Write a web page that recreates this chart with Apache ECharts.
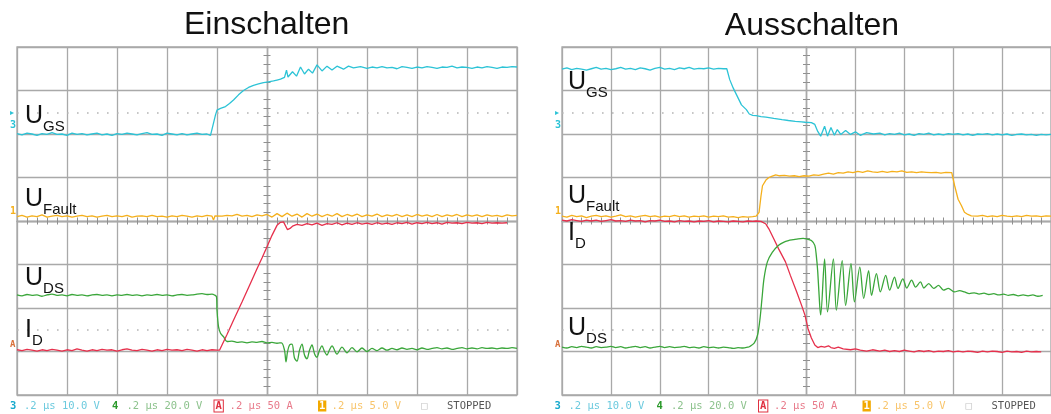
<!DOCTYPE html>
<html><head><meta charset="utf-8">
<script src="https://cdn.jsdelivr.net/npm/echarts@6/dist/echarts.min.js"></script>
<style>html,body{margin:0;padding:0;background:#fff}#c{width:1051px;height:414px}</style>
</head><body><div id="c"></div>
<script>
// x: time in scope divisions (0.2 µs/div, 0 = screen centre); y: screen divisions
const panelTitles = ['Einschalten', 'Ausschalten'];

// ---------- Einschalten ----------
const ugsOn = [[-5,2.01],[-4.9,1.98],[-4.8,2.02],[-4.7,2.0],[-4.6,1.97],[-4.5,2.01],[-4.4,1.99],[-4.3,2.03],[-4.2,1.99],[-4.1,2.0],[-4.0,1.97],[-3.9,2.02],[-3.8,1.99],[-3.7,2.01],[-3.6,1.98],[-3.5,2.0],[-3.4,2.02],[-3.3,1.98],[-3.2,2.0],[-3.1,1.97],[-3.0,2.01],[-2.9,1.99],[-2.8,2.02],[-2.7,2.0],[-2.6,1.98],[-2.5,2.01],[-2.4,2.03],[-2.3,1.99],[-2.2,2.0],[-2.1,1.97],[-2.0,2.02],[-1.9,2.0],[-1.8,1.98],[-1.7,2.01],[-1.6,1.98],[-1.5,2.0],[-1.4,2.02],[-1.3,1.99],[-1.2,2.0],[-1.13,1.97],[-1.09,1.99],[-1.07,2.25],[-1.03,2.44],[-1.0,2.55],[-0.93,2.59],[-0.83,2.63],[-0.75,2.7],[-0.67,2.78],[-0.57,2.9],[-0.47,3.0],[-0.37,3.07],[-0.27,3.12],[-0.17,3.15],[-0.07,3.18],[0.03,3.2],[0.13,3.22],[0.2,3.24],[0.27,3.26],[0.35,3.3],[0.39,3.47],[0.42,3.31],[0.51,3.43],[0.59,3.33],[0.67,3.54],[0.75,3.38],[0.83,3.49],[0.91,3.4],[1.0,3.59],[1.1,3.45],[1.2,3.56],[1.3,3.47],[1.4,3.56],[1.53,3.49],[1.63,3.56],[1.73,3.52],[1.87,3.55],[2.0,3.51],[2.1,3.54],[2.2,3.52],[2.3,3.55],[2.4,3.52],[2.5,3.53],[2.6,3.5],[2.7,3.55],[2.8,3.53],[2.9,3.51],[3.0,3.54],[3.1,3.52],[3.2,3.55],[3.3,3.53],[3.4,3.51],[3.5,3.54],[3.6,3.53],[3.7,3.56],[3.8,3.52],[3.9,3.54],[4.0,3.53],[4.1,3.51],[4.2,3.54],[4.3,3.52],[4.4,3.55],[4.5,3.53],[4.6,3.51],[4.7,3.54],[4.8,3.53],[4.9,3.55],[5.0,3.54]];
const ufOn = [[-5,0.1],[-4.9,0.13],[-4.8,0.09],[-4.7,0.12],[-4.6,0.1],[-4.5,0.14],[-4.4,0.09],[-4.3,0.11],[-4.2,0.13],[-4.1,0.1],[-4.0,0.12],[-3.9,0.09],[-3.8,0.11],[-3.7,0.13],[-3.6,0.1],[-3.5,0.12],[-3.4,0.09],[-3.3,0.11],[-3.2,0.13],[-3.1,0.1],[-3.0,0.12],[-2.9,0.1],[-2.8,0.13],[-2.7,0.09],[-2.6,0.11],[-2.5,0.12],[-2.4,0.1],[-2.3,0.13],[-2.2,0.1],[-2.1,0.11],[-2.0,0.09],[-1.9,0.12],[-1.8,0.1],[-1.7,0.13],[-1.6,0.11],[-1.5,0.09],[-1.4,0.12],[-1.3,0.1],[-1.2,0.13],[-1.1,0.11],[-1.07,0.02],[-1.04,0.12],[-1.0,0.14],[-0.9,0.11],[-0.8,0.13],[-0.7,0.12],[-0.6,0.15],[-0.5,0.11],[-0.4,0.13],[-0.3,0.1],[-0.2,0.14],[-0.1,0.12],[0.0,0.15],[0.1,0.09],[0.2,0.17],[0.3,0.1],[0.4,0.18],[0.5,0.11],[0.6,0.16],[0.7,0.09],[0.8,0.17],[0.9,0.11],[1.0,0.16],[1.1,0.1],[1.2,0.15],[1.3,0.11],[1.4,0.17],[1.5,0.1],[1.6,0.15],[1.7,0.11],[1.8,0.16],[1.9,0.1],[2.0,0.14],[2.1,0.11],[2.2,0.16],[2.3,0.1],[2.4,0.14],[2.5,0.11],[2.6,0.15],[2.7,0.1],[2.8,0.14],[2.9,0.1],[3.0,0.15],[3.1,0.11],[3.2,0.14],[3.3,0.1],[3.4,0.15],[3.5,0.1],[3.6,0.14],[3.7,0.11],[3.8,0.15],[3.9,0.1],[4.0,0.14],[4.1,0.11],[4.2,0.14],[4.3,0.1],[4.4,0.14],[4.5,0.11],[4.6,0.13],[4.7,0.1],[4.8,0.14],[4.9,0.12],[5.0,0.13]];
const idOn = [[-5,-2.96],[-4.9,-2.98],[-4.8,-2.95],[-4.7,-2.97],[-4.6,-2.99],[-4.5,-2.96],[-4.4,-2.98],[-4.3,-2.95],[-4.2,-2.97],[-4.1,-2.99],[-4.0,-2.96],[-3.9,-2.98],[-3.8,-2.94],[-3.7,-2.97],[-3.6,-2.99],[-3.5,-2.96],[-3.4,-2.98],[-3.3,-2.95],[-3.2,-2.97],[-3.1,-2.96],[-3.0,-2.99],[-2.9,-2.96],[-2.8,-2.94],[-2.7,-2.97],[-2.6,-2.98],[-2.5,-2.95],[-2.4,-2.97],[-2.3,-2.99],[-2.2,-2.96],[-2.1,-2.98],[-2.0,-2.95],[-1.9,-2.97],[-1.8,-2.96],[-1.7,-2.98],[-1.6,-2.95],[-1.5,-2.97],[-1.4,-2.99],[-1.3,-2.96],[-1.2,-2.98],[-1.1,-2.96],[-1.0,-2.97],[-0.95,-2.97],[-0.9,-2.85],[-0.8,-2.61],[-0.67,-2.28],[-0.5,-1.86],[-0.33,-1.43],[-0.2,-1.1],[-0.1,-0.85],[0,-0.59],[0.1,-0.33],[0.2,-0.1],[0.27,-0.03],[0.33,-0.02],[0.37,-0.06],[0.41,-0.2],[0.46,-0.17],[0.51,-0.12],[0.6,-0.08],[0.7,-0.1],[0.8,-0.06],[0.9,-0.09],[1.0,-0.05],[1.1,-0.1],[1.2,-0.06],[1.3,-0.08],[1.4,-0.04],[1.5,-0.09],[1.6,-0.05],[1.7,-0.08],[1.8,-0.04],[1.9,-0.07],[2.0,-0.05],[2.1,-0.08],[2.2,-0.04],[2.3,-0.07],[2.4,-0.05],[2.5,-0.08],[2.6,-0.04],[2.7,-0.06],[2.8,-0.03],[2.9,-0.07],[3.0,-0.04],[3.1,-0.06],[3.2,-0.03],[3.3,-0.06],[3.4,-0.04],[3.5,-0.07],[3.6,-0.03],[3.7,-0.05],[3.8,-0.04],[3.9,-0.06],[4.0,-0.03],[4.1,-0.05],[4.2,-0.04],[4.3,-0.06],[4.4,-0.03],[4.5,-0.05],[4.6,-0.04],[4.7,-0.05],[4.8,-0.04]];
const udsOn = [[-5,-1.7],[-4.9,-1.72],[-4.8,-1.69],[-4.7,-1.71],[-4.6,-1.7],[-4.5,-1.73],[-4.4,-1.7],[-4.3,-1.68],[-4.2,-1.71],[-4.1,-1.7],[-4.0,-1.72],[-3.9,-1.69],[-3.8,-1.71],[-3.7,-1.7],[-3.6,-1.72],[-3.5,-1.7],[-3.4,-1.69],[-3.3,-1.71],[-3.2,-1.7],[-3.1,-1.72],[-3.0,-1.7],[-2.9,-1.71],[-2.8,-1.69],[-2.7,-1.71],[-2.6,-1.7],[-2.5,-1.72],[-2.4,-1.7],[-2.3,-1.71],[-2.2,-1.69],[-2.1,-1.71],[-2.0,-1.7],[-1.9,-1.72],[-1.8,-1.7],[-1.7,-1.69],[-1.6,-1.71],[-1.5,-1.7],[-1.4,-1.68],[-1.3,-1.67],[-1.2,-1.69],[-1.1,-1.68],[-1.05,-1.7],[-1.01,-1.74],[-1.0,-2.05],[-0.97,-2.43],[-0.93,-2.58],[-0.87,-2.66],[-0.8,-2.77],[-0.7,-2.76],[-0.6,-2.79],[-0.5,-2.78],[-0.4,-2.8],[-0.3,-2.78],[-0.2,-2.79],[-0.1,-2.77],[0,-2.8],[0.1,-2.79],[0.2,-2.81],[0.29,-2.8],[0.35,-2.97],[0.38,-3.24],[0.41,-3.01],[0.45,-2.85],[0.5,-2.83],[0.55,-3.15],[0.6,-3.22],[0.65,-2.97],[0.7,-2.83],[0.75,-3.08],[0.8,-3.17],[0.85,-2.97],[0.9,-2.85],[0.95,-3.05],[1.0,-3.13],[1.05,-2.97],[1.1,-2.87],[1.15,-3.0],[1.2,-3.08],[1.25,-2.96],[1.3,-2.87],[1.4,-3.06],[1.5,-2.9],[1.6,-3.03],[1.7,-2.91],[1.8,-3.01],[1.9,-2.92],[2.0,-3.0],[2.1,-2.93],[2.2,-2.98],[2.3,-2.92],[2.4,-2.97],[2.5,-2.93],[2.6,-2.96],[2.7,-2.92],[2.8,-2.95],[2.9,-2.93],[3.0,-2.96],[3.1,-2.92],[3.2,-2.95],[3.3,-2.93],[3.4,-2.91],[3.5,-2.94],[3.6,-2.92],[3.7,-2.95],[3.8,-2.93],[3.9,-2.91],[4.0,-2.94],[4.1,-2.92],[4.2,-2.94],[4.3,-2.91],[4.4,-2.93],[4.5,-2.92],[4.6,-2.94],[4.7,-2.92],[4.8,-2.93],[4.9,-2.91],[5.0,-2.93]];

// ---------- Ausschalten ----------
const ugsOff = [[-5,3.49],[-4.9,3.52],[-4.8,3.48],[-4.7,3.51],[-4.6,3.49],[-4.5,3.47],[-4.4,3.5],[-4.3,3.53],[-4.2,3.49],[-4.1,3.51],[-4.0,3.48],[-3.9,3.5],[-3.8,3.53],[-3.7,3.49],[-3.6,3.51],[-3.5,3.48],[-3.4,3.52],[-3.3,3.5],[-3.2,3.47],[-3.1,3.51],[-3.0,3.53],[-2.9,3.49],[-2.8,3.51],[-2.7,3.48],[-2.6,3.52],[-2.5,3.5],[-2.4,3.53],[-2.3,3.49],[-2.2,3.51],[-2.1,3.5],[-2.0,3.52],[-1.9,3.49],[-1.8,3.51],[-1.7,3.5],[-1.63,3.5],[-1.57,3.25],[-1.5,3.06],[-1.43,2.9],[-1.33,2.67],[-1.23,2.56],[-1.17,2.46],[-1.1,2.43],[-1.03,2.42],[-0.93,2.4],[-0.83,2.39],[-0.67,2.36],[-0.5,2.33],[-0.37,2.31],[-0.23,2.29],[-0.1,2.28],[-0.03,2.27],[0.1,2.26],[0.17,2.22],[0.23,2.06],[0.29,1.95],[0.37,2.18],[0.43,1.95],[0.5,2.15],[0.57,1.97],[0.63,2.1],[0.7,1.99],[0.8,2.08],[0.9,1.99],[1.0,2.05],[1.1,1.97],[1.23,2.03],[1.37,2.0],[1.5,2.02],[1.6,1.98],[1.7,2.01],[1.8,1.99],[1.9,2.02],[2.0,1.98],[2.1,2.0],[2.2,1.97],[2.3,2.01],[2.4,1.99],[2.5,2.02],[2.6,1.98],[2.7,2.0],[2.8,1.98],[2.9,2.01],[3.0,1.99],[3.1,2.01],[3.2,1.98],[3.3,2.0],[3.4,1.97],[3.5,2.0],[3.6,1.99],[3.7,2.01],[3.8,1.98],[3.9,2.0],[4.0,1.98],[4.1,2.0],[4.2,1.97],[4.3,1.99],[4.4,2.0],[4.5,1.98],[4.6,1.99],[4.7,1.97],[4.8,1.99],[4.9,1.98],[5.0,1.99]];
const ufOff = [[-5,0.11],[-4.9,0.09],[-4.8,0.13],[-4.7,0.1],[-4.6,0.12],[-4.5,0.08],[-4.4,0.11],[-4.3,0.13],[-4.2,0.1],[-4.1,0.12],[-4.0,0.09],[-3.9,0.11],[-3.8,0.14],[-3.7,0.1],[-3.6,0.12],[-3.5,0.09],[-3.4,0.11],[-3.3,0.13],[-3.2,0.1],[-3.1,0.12],[-3.0,0.09],[-2.9,0.11],[-2.8,0.1],[-2.7,0.13],[-2.6,0.1],[-2.5,0.12],[-2.4,0.09],[-2.3,0.11],[-2.2,0.1],[-2.1,0.12],[-2.0,0.09],[-1.9,0.11],[-1.8,0.1],[-1.7,0.12],[-1.6,0.09],[-1.5,0.1],[-1.4,0.08],[-1.3,0.1],[-1.2,0.09],[-1.1,0.1],[-1.03,0.11],[-1.0,0.12],[-0.97,0.2],[-0.93,0.58],[-0.9,0.81],[-0.83,0.94],[-0.77,1.0],[-0.7,1.03],[-0.63,1.06],[-0.55,1.04],[-0.45,1.05],[-0.35,1.03],[-0.25,1.04],[-0.15,1.02],[-0.05,1.04],[0.05,1.03],[0.15,1.06],[0.25,1.05],[0.35,1.08],[0.45,1.1],[0.55,1.08],[0.65,1.11],[0.75,1.1],[0.85,1.13],[0.95,1.11],[1.05,1.14],[1.15,1.12],[1.25,1.15],[1.35,1.13],[1.45,1.12],[1.55,1.14],[1.65,1.12],[1.75,1.14],[1.85,1.13],[1.95,1.15],[2.05,1.12],[2.15,1.13],[2.25,1.11],[2.35,1.13],[2.45,1.12],[2.55,1.11],[2.65,1.12],[2.75,1.1],[2.85,1.12],[2.97,1.11],[3.0,1.07],[3.03,0.81],[3.1,0.5],[3.17,0.35],[3.23,0.2],[3.3,0.15],[3.37,0.12],[3.5,0.11],[3.6,0.13],[3.7,0.1],[3.8,0.12],[3.9,0.1],[4.0,0.13],[4.1,0.11],[4.2,0.1],[4.3,0.12],[4.4,0.1],[4.5,0.13],[4.6,0.11],[4.7,0.12],[4.8,0.1],[4.9,0.12],[5.0,0.11]];
const idOff = [[-5,0.02],[-4.9,0.0],[-4.8,0.03],[-4.7,0.01],[-4.6,-0.01],[-4.5,0.02],[-4.4,0.0],[-4.3,0.02],[-4.2,-0.01],[-4.1,0.01],[-4.0,0.03],[-3.9,0.0],[-3.8,0.01],[-3.7,-0.01],[-3.6,0.02],[-3.5,0.0],[-3.4,0.01],[-3.3,-0.02],[-3.2,0.01],[-3.1,0.0],[-3.0,0.02],[-2.9,-0.01],[-2.8,0.0],[-2.7,-0.02],[-2.6,0.01],[-2.5,-0.01],[-2.4,0.0],[-2.3,-0.02],[-2.2,0.0],[-2.1,-0.01],[-2.0,0.01],[-1.9,-0.02],[-1.8,0.0],[-1.7,-0.01],[-1.6,-0.02],[-1.5,0.0],[-1.4,-0.01],[-1.3,-0.02],[-1.2,0.0],[-1.1,-0.01],[-1.03,0.0],[-0.93,-0.01],[-0.83,-0.07],[-0.77,-0.18],[-0.67,-0.41],[-0.57,-0.64],[-0.43,-0.94],[-0.33,-1.25],[-0.2,-1.63],[-0.1,-1.94],[-0.03,-2.17],[0.03,-2.47],[0.1,-2.69],[0.17,-2.85],[0.23,-2.91],[0.3,-2.88],[0.37,-2.9],[0.45,-2.87],[0.5,-2.91],[0.57,-2.93],[0.65,-2.9],[0.75,-2.94],[0.9,-2.96],[1.0,-2.94],[1.1,-2.97],[1.23,-2.99],[1.35,-2.96],[1.5,-2.99],[1.6,-2.97],[1.7,-3.0],[1.8,-2.98],[1.9,-3.0],[2.0,-2.97],[2.1,-2.99],[2.2,-3.01],[2.3,-2.98],[2.4,-3.0],[2.5,-2.98],[2.6,-3.01],[2.7,-2.99],[2.8,-3.0],[2.9,-2.98],[3.0,-3.01],[3.1,-2.99],[3.2,-3.01],[3.3,-2.99],[3.4,-3.0],[3.5,-3.02],[3.6,-2.99],[3.7,-3.01],[3.8,-2.99],[3.9,-3.0],[4.0,-3.02],[4.1,-2.99],[4.2,-3.01],[4.3,-3.0],[4.4,-3.02],[4.5,-2.99],[4.6,-3.01],[4.7,-3.0],[4.8,-3.01]];
const udsOff = [[-5,-2.9],[-4.9,-2.92],[-4.8,-2.89],[-4.7,-2.91],[-4.6,-2.88],[-4.5,-2.9],[-4.4,-2.92],[-4.3,-2.89],[-4.2,-2.91],[-4.1,-2.9],[-4.0,-2.88],[-3.9,-2.91],[-3.8,-2.89],[-3.7,-2.92],[-3.6,-2.9],[-3.5,-2.88],[-3.4,-2.91],[-3.3,-2.89],[-3.2,-2.92],[-3.1,-2.9],[-3.0,-2.88],[-2.9,-2.91],[-2.8,-2.89],[-2.7,-2.91],[-2.6,-2.9],[-2.5,-2.88],[-2.4,-2.91],[-2.3,-2.9],[-2.2,-2.92],[-2.1,-2.89],[-2.0,-2.91],[-1.9,-2.9],[-1.8,-2.92],[-1.7,-2.9],[-1.6,-2.91],[-1.5,-2.93],[-1.4,-2.91],[-1.3,-2.92],[-1.2,-2.9],[-1.17,-2.89],[-1.07,-2.81],[-1.0,-2.62],[-0.95,-2.24],[-0.91,-1.78],[-0.87,-1.33],[-0.8,-0.94],[-0.7,-0.72],[-0.57,-0.56],[-0.47,-0.49],[-0.37,-0.45],[-0.27,-0.43],[-0.17,-0.41],[-0.07,-0.4],[0,-0.41],[0.1,-0.45],[0.17,-0.56],[0.2,-0.79],[0.23,-1.17],[0.27,-1.94],[0.29,-2.16],[0.37,-0.87],[0.43,-2.09],[0.55,-0.87],[0.61,-2.05],[0.73,-0.91],[0.8,-1.94],[0.91,-0.98],[0.98,-1.86],[1.09,-1.06],[1.17,-1.78],[1.27,-1.14],[1.33,-1.71],[1.43,-1.21],[1.51,-1.63],[1.62,-1.25],[1.7,-1.59],[1.8,-1.29],[1.87,-1.55],[1.97,-1.33],[2.05,-1.54],[2.15,-1.36],[2.23,-1.52],[2.33,-1.4],[2.4,-1.54],[2.5,-1.44],[2.6,-1.55],[2.7,-1.48],[2.8,-1.59],[2.9,-1.55],[3.03,-1.63],[3.13,-1.6],[3.23,-1.63],[3.33,-1.67],[3.43,-1.65],[3.53,-1.68],[3.63,-1.66],[3.73,-1.69],[3.83,-1.67],[3.93,-1.7],[4.03,-1.68],[4.13,-1.71],[4.23,-1.69],[4.33,-1.72],[4.43,-1.7],[4.53,-1.72],[4.63,-1.7],[4.73,-1.73],[4.83,-1.71]];

// scope status line: [text, colour, x, bold]
const statusItems = [
  ['3', '#17a9cc', 10, true], ['.2 µs 10.0 V', '#6ccade', 24, false],
  ['4', '#2a992a', 112, true], ['.2 µs 20.0 V', '#8cc28c', 126.5, false],
  ['A', 'box-red', 214.5, true], ['.2 µs 50 A', '#e87a8a', 229.6, false],
  ['1', 'box-orange', 318, true], ['.2 µs 5.0 V', '#f8c46a', 331.6, false],
  ['□', '#c4c4c4', 421, false], ['STOPPED', '#555555', 447, false]
];
const traceLabels = [
  // [panel, main, sub, left, top]
  [0, 'U', 'GS', 25, 104], [0, 'U', 'Fault', 25, 187], [0, 'U', 'DS', 25, 266], [0, 'I', 'D', 25, 318],
  [1, 'U', 'GS', 568, 70], [1, 'U', 'Fault', 568, 184], [1, 'I', 'D', 568, 221], [1, 'U', 'DS', 568, 316]
];

const C_GS = '#2cc3d6', C_F = '#f5b01c', C_DS = '#3aa63a', C_ID = '#e6304c';
const GRIDC = '#a9a9a9', TICKC = '#8f8f8f';
const grids = [{left: 17, top: 47, width: 500, height: 348}, {left: 562, top: 47, width: 500, height: 348}];

const xAxes = [], yAxes = [];
grids.forEach((g, gi) => {
  [false, true].forEach((inside, k) => {
    xAxes.push({gridIndex: gi, type: 'value', min: -5, max: 5, interval: 1, position: 'bottom',
      axisLabel: {show: false}, axisTick: {show: false, inside: inside},
      axisLine: {show: true, onZero: true, lineStyle: {color: GRIDC, width: 1.3}},
      minorTick: {show: true, splitNumber: 5, length: 3.5, lineStyle: {color: TICKC, width: 1}},
      splitLine: {show: k === 0, lineStyle: {color: GRIDC, width: 1.3}}});
    yAxes.push({gridIndex: gi, type: 'value', min: -4, max: 4, interval: 1, position: 'left',
      axisLabel: {show: false}, axisTick: {show: false, inside: inside},
      axisLine: {show: true, onZero: true, lineStyle: {color: GRIDC, width: 1.3}},
      minorTick: {show: true, splitNumber: 5, length: 3.5, lineStyle: {color: TICKC, width: 1}},
      splitLine: {show: k === 0, lineStyle: {color: GRIDC, width: 1.3}}});
  });
});

function trace(data, color, gi, extra) {
  return Object.assign({type: 'line', data: data, xAxisIndex: gi * 2, yAxisIndex: gi * 2,
    showSymbol: false, symbol: 'none', silent: true, animation: false, clip: true,
    lineStyle: {color: color, width: 1.3}, itemStyle: {color: color}}, extra || {});
}
const dotted = {silent: true, symbol: 'none', animation: false, label: {show: false},
  lineStyle: {color: '#b5b5b5', type: [1.6, 8.4], width: 1.6}, data: [{yAxis: 2.5}, {yAxis: -2.5}]};

const series = [
  trace(ugsOn, C_GS, 0, {markLine: dotted}), trace(ufOn, C_F, 0), trace(udsOn, C_DS, 0, {smooth: 0.3}), trace(idOn, C_ID, 0),
  trace(ugsOff, C_GS, 1, {markLine: dotted}), trace(idOff, C_ID, 1), trace(udsOff, C_DS, 1, {smooth: 0.3}), trace(ufOff, C_F, 1)
];

const FONT = '"Liberation Sans", Arial, sans-serif';
const titles = traceLabels.map(l => ({left: l[3], top: l[4], padding: 0,
  text: '{m|' + l[1] + '}{s|' + l[2] + '}',
  textStyle: {fontWeight: 'normal', rich: {
    m: {fontFamily: FONT, fontSize: 25, fontWeight: 'normal', lineHeight: 30, color: '#111', verticalAlign: 'top'},
    s: {fontFamily: FONT, fontSize: 15, fontWeight: 'normal', lineHeight: 13, color: '#111', verticalAlign: 'bottom'}}}}));

const graphic = [];
const panelCenters = [266.7, 812];
panelTitles.forEach((t, i) => graphic.push({type: 'text', x: panelCenters[i], y: i === 0 ? 25 : 26,
  style: {text: t, font: '32px ' + FONT, fill: '#111', align: 'center', verticalAlign: 'middle'}}));
[0, 544.5].forEach(off => {
  statusItems.forEach(s => {
    const st = {text: s[0], font: (s[3] ? 'bold ' : '') + '10.5px "DejaVu Sans Mono", monospace', verticalAlign: 'middle'};
    if (s[1] === 'box-red') { Object.assign(st, {fill: '#e03040', borderColor: '#e03040', borderWidth: 1, padding: [0, 1], backgroundColor: '#fff'}); }
    else if (s[1] === 'box-orange') { Object.assign(st, {fill: '#ffffff', backgroundColor: '#f2a900', padding: [0, 1]}); }
    else st.fill = s[1];
    graphic.push({type: 'text', x: s[2] + off, y: 406, style: st});
  });
});
// channel reference markers at the left screen edge
[0, 545].forEach(off => {
  graphic.push({type: 'text', x: 10 + off, y: 113, style: {text: '▸', font: '8px "DejaVu Sans"', fill: C_GS, verticalAlign: 'middle'}});
  graphic.push({type: 'text', x: 10 + off, y: 125, style: {text: '3', font: 'bold 10px "DejaVu Sans Mono"', fill: C_GS, verticalAlign: 'middle'}});
  graphic.push({type: 'text', x: 10 + off, y: 211, style: {text: '1', font: 'bold 10px "DejaVu Sans Mono"', fill: C_F, verticalAlign: 'middle'}});
  graphic.push({type: 'text', x: 10 + off, y: 345, style: {text: 'A', font: 'bold 9px "DejaVu Sans Mono"', fill: '#d8703a', verticalAlign: 'middle'}});
});

const chart = echarts.init(document.getElementById('c'), null, {renderer: 'canvas'});
chart.setOption({
  animation: false, backgroundColor: '#fff',
  grid: grids.map(g => Object.assign({show: true, borderColor: GRIDC, borderWidth: 1.3, containLabel: false}, g)),
  xAxis: xAxes, yAxis: yAxes, series: series, title: titles, graphic: graphic
});
</script></body></html>
